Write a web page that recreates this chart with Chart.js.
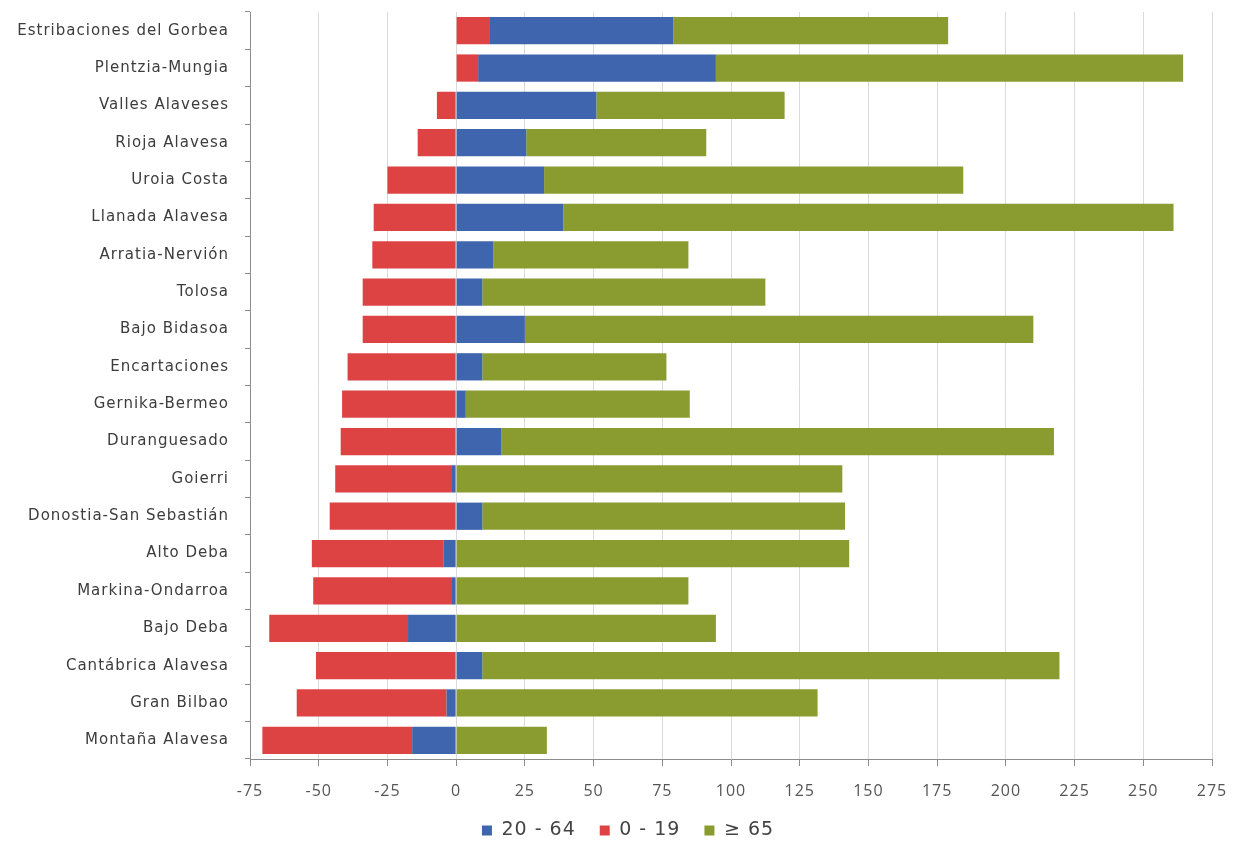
<!DOCTYPE html>
<html>
<head>
<meta charset="utf-8">
<script src="https://cdn.jsdelivr.net/npm/chart.js@4"></script>
<style>
  html, body { margin: 0; padding: 0; background: #ffffff; }
  #wrap { width: 1236px; height: 850px; }
</style>
</head>
<body>
<div id="wrap"><canvas id="chart" width="1236" height="850"></canvas></div>
<script>
// Comarcas, top to bottom
const categories = [
  'Estribaciones del Gorbea', 'Plentzia-Mungia', 'Valles Alaveses', 'Rioja Alavesa',
  'Uroia Costa', 'Llanada Alavesa', 'Arratia-Nervión', 'Tolosa', 'Bajo Bidasoa',
  'Encartaciones', 'Gernika-Bermeo', 'Duranguesado', 'Goierri', 'Donostia-San Sebastián',
  'Alto Deba', 'Markina-Ondarroa', 'Bajo Deba', 'Cantábrica Alavesa', 'Gran Bilbao',
  'Montaña Alavesa'
];

// Values per age group
const age0to19 = [12, 8, -7, -14, -25, -30, -30.5, -34, -34, -39.5, -41.5, -42, -42.5, -46, -48, -50.5, -50.5, -51, -54.5, -54.5];
const age20to64 = [67, 86.5, 51, 25.5, 32, 39, 13.5, 9.5, 25, 9.5, 3.5, 16.5, -1.5, 9.5, -4.5, -1.5, -17.5, 9.5, -3.5, -16];
const age65plus = [100, 170, 68.5, 65.5, 152.5, 222, 71, 103, 185, 67, 81.5, 201, 140.5, 132, 143, 84.5, 94.5, 210, 131.5, 33];

const xTicks = { min: -75, max: 275, step: 25 };
const seriesLabels = ['20 - 64', '0 - 19', '≥ 65'];

const BLUE = '#3e65ae';
const RED = '#de4343';
const GREEN = '#8a9c30';

// Negative 20-64 values sit next to the axis, positive ones stack after 0-19
const blueNeg = age20to64.map(v => (v < 0 ? v : null));
const bluePos = age20to64.map(v => (v >= 0 ? v : null));

const legendRank = { '20 - 64': 0, '0 - 19': 1, '≥ 65': 2 };

// Slightly tracked-out lettering for all chart text
const textSpacing = {
  id: 'textSpacing',
  beforeLayout(chart) { chart.ctx.letterSpacing = '1px'; },
  beforeDraw(chart) { chart.ctx.letterSpacing = '1px'; }
};

// Nudge the legend row a little to the right of the canvas centre
const legendShift = {
  id: 'legendShift',
  afterLayout(chart) {
    if (chart.legend) { chart.legend.left += 22; chart.legend.right += 22; }
  }
};

new Chart(document.getElementById('chart'), {
  type: 'bar',
  plugins: [textSpacing, legendShift],
  data: {
    labels: categories,
    datasets: [
      { label: seriesLabels[0], data: blueNeg, backgroundColor: BLUE, hideInLegend: true },
      { label: seriesLabels[1], data: age0to19, backgroundColor: RED },
      { label: seriesLabels[0], data: bluePos, backgroundColor: BLUE },
      { label: seriesLabels[2], data: age65plus, backgroundColor: GREEN }
    ]
  },
  options: {
    indexAxis: 'y',
    responsive: false,
    animation: false,
    datasets: { bar: { categoryPercentage: 1, barPercentage: 0.73, borderWidth: 0 } },
    layout: { padding: { top: 12, right: 24, bottom: 0, left: 0 } },
    scales: {
      x: {
        stacked: true,
        min: xTicks.min,
        max: xTicks.max,
        ticks: {
          stepSize: xTicks.step,
          color: '#555555',
          padding: 16,
          font: { family: 'Open Sans', size: 16 }
        },
        grid: { color: '#dadada', tickColor: '#8c8c8c', tickLength: 7, lineWidth: 1 },
        border: { color: '#8c8c8c', width: 1 },
        afterFit: s => { s.height = 38; s.paddingLeft = 0; s.paddingRight = 0; }
      },
      y: {
        stacked: true,
        ticks: {
          color: '#3c3c3c',
          padding: 16,
          autoSkip: false,
          font: { family: 'DejaVu Sans', size: 15 }
        },
        grid: { drawOnChartArea: false, offset: true, tickColor: '#8c8c8c', tickLength: 5 },
        border: { color: '#8c8c8c', width: 1 },
        afterFit: s => { s.width = 250; s.paddingTop = 0; s.paddingBottom = 0; }
      }
    },
    plugins: {
      tooltip: { enabled: false },
      legend: {
        position: 'bottom',
        labels: {
          boxWidth: 10,
          boxHeight: 10,
          padding: 24,
          color: '#444444',
          font: { family: 'DejaVu Sans', size: 19 },
          filter: (item, data) => !data.datasets[item.datasetIndex].hideInLegend,
          sort: (a, b) => legendRank[a.text] - legendRank[b.text]
        }
      }
    }
  }
});
</script>
</body>
</html>
